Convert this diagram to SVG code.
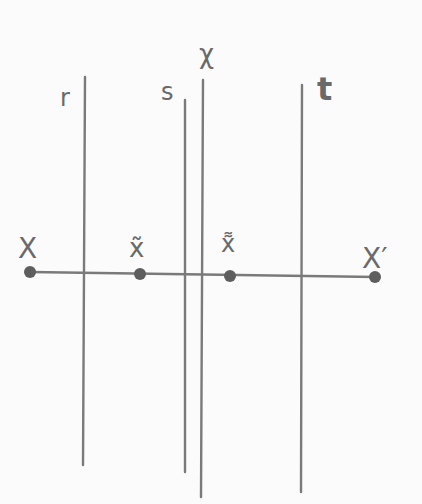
<svg xmlns="http://www.w3.org/2000/svg" width="422" height="504" viewBox="0 0 422 504">
<style>
.ln{stroke:#7a7a7a;stroke-width:2.4;fill:none;stroke-linecap:round}
.dot{fill:#5e5e5e}
.lb{font-family:"DejaVu Sans","Liberation Sans",sans-serif;fill:#6a6a6a}
</style>
<rect width="422" height="504" fill="#fbfbfb"/>
<g id="connectors">
<line class="ln" x1="30" y1="272" x2="376" y2="277"/>
</g>
<g id="line-r"><line class="ln" x1="85" y1="77" x2="83" y2="465"/><text class="lb" x="60" y="106" font-size="24">r</text></g>
<g id="line-s"><line class="ln" x1="185" y1="100" x2="185" y2="472"/><text class="lb" x="161" y="100" font-size="24">s</text></g>
<g id="line-chi"><line class="ln" x1="203" y1="80" x2="201" y2="497"/><text class="lb" x="199" y="63" font-size="26">χ</text></g>
<g id="line-t"><line class="ln" x1="302" y1="85" x2="301" y2="492"/><text class="lb" x="317" y="100" font-size="32" font-weight="bold">t</text></g>
<g id="X"><circle class="dot" cx="30" cy="272" r="6"/><text class="lb" x="18" y="258" font-size="28">X</text></g>
<g id="x-tilde"><circle class="dot" cx="140" cy="274" r="6"/><text class="lb" x="129" y="257" font-size="26">x̃</text></g>
<g id="x-dtilde"><circle class="dot" cx="230" cy="276" r="6"/><text class="lb" x="221" y="252" font-size="24">x͌</text></g>
<g id="X-prime"><circle class="dot" cx="375" cy="277" r="6"/><text class="lb" x="362" y="268" font-size="28">X′</text></g>
</svg>
